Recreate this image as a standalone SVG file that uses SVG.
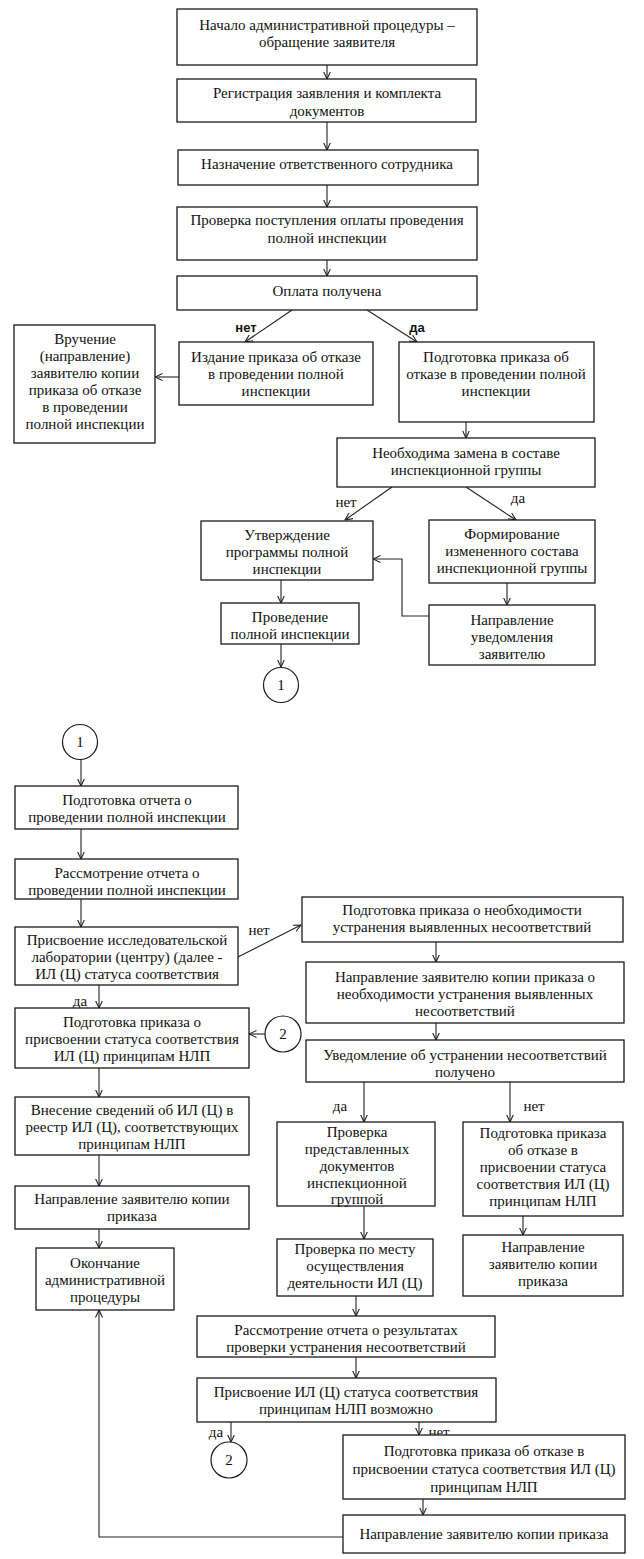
<svg xmlns="http://www.w3.org/2000/svg" width="644" height="1559" viewBox="0 0 644 1559">
<defs>
<style>
.b{fill:#fff;stroke:#1a1a1a;stroke-width:1.3}
.t{font-family:"Liberation Serif","Times New Roman",serif;font-size:15px;fill:#111;text-anchor:middle}
.l{font-family:"Liberation Serif","Times New Roman",serif;font-size:15px;fill:#111;text-anchor:middle}
.lb{font-family:"Liberation Sans",Arial,sans-serif;font-size:13px;font-weight:bold;fill:#111;text-anchor:middle}
.c{fill:none;stroke:#222;stroke-width:1.1;marker-end:url(#a)}
.o{fill:#fff;stroke:#1a1a1a;stroke-width:1.2}
</style>
<marker id="a" viewBox="0 0 8 8" refX="7.5" refY="4" markerWidth="8" markerHeight="8" markerUnits="userSpaceOnUse" orient="auto">
<path d="M0,0.5 L7.5,4 L0,7.5" fill="none" stroke="#222" stroke-width="1.1"/>
</marker>
</defs>
<rect width="644" height="1559" fill="#fff"/>

<g id="connectors">
<path class="c" d="M327,65 V79"/>
<path class="c" d="M327,122 V150"/>
<path class="c" d="M327,185 V207"/>
<path class="c" d="M327,260 V276"/>
<path class="c" d="M292,310 L245,342"/>
<path class="c" d="M367,310 L417,342"/>
<path class="c" d="M179,377 H155"/>
<path class="c" d="M466,422 V438"/>
<path class="c" d="M392,487 L345,520"/>
<path class="c" d="M466,487 L516,520"/>
<path class="c" d="M507,583 V605"/>
<path class="c" d="M429,616 H402 V559 H373"/>
<path class="c" d="M281,580 V603"/>
<path class="c" d="M281,644 V667"/>
<path class="c" d="M81,759.5 V786"/>
<path class="c" d="M81,829 V859"/>
<path class="c" d="M81,899 V927"/>
<path class="c" d="M238,957 L301,925"/>
<path class="c" d="M99,985 V1008"/>
<path class="c" d="M265,1034 H249"/>
<path class="c" d="M99,1068 V1097"/>
<path class="c" d="M99,1155 V1186"/>
<path class="c" d="M99,1229 V1248"/>
<path class="c" d="M436,942 V962"/>
<path class="c" d="M436,1023 V1040"/>
<path class="c" d="M364,1082 V1122"/>
<path class="c" d="M510,1082 V1122"/>
<path class="c" d="M364,1206 V1239"/>
<path class="c" d="M523,1216 V1235"/>
<path class="c" d="M356,1296 V1316"/>
<path class="c" d="M356,1357 V1378"/>
<path class="c" d="M231,1422 V1442"/>
<path class="c" d="M419,1422 V1435"/>
<path class="c" d="M423,1499 V1515"/>
<path class="c" d="M343,1537 H99 V1310"/>
</g>

<g id="labels">
<text class="lb" x="246" y="332">нет</text>
<text class="lb" x="417" y="332">да</text>
<text class="l" x="346" y="507">нет</text>
<text class="l" x="518" y="503">да</text>
<text class="l" x="259" y="935">нет</text>
<text class="l" x="80" y="1006">да</text>
<text class="l" x="340" y="1111">да</text>
<text class="l" x="534" y="1111">нет</text>
<text class="l" x="216" y="1437">да</text>
<text class="l" x="439" y="1437">нет</text>
</g>

<g id="n1"><rect class="b" x="177" y="9" width="300" height="56"/><text class="t" x="327" y="30">Начало административной процедуры –<tspan x="327" dy="17">обращение заявителя</tspan></text></g>
<g id="n2"><rect class="b" x="177" y="79" width="299" height="43"/><text class="t" x="327" y="98">Регистрация заявления и комплекта<tspan x="327" dy="18">документов</tspan></text></g>
<g id="n3"><rect class="b" x="178" y="150" width="300" height="35"/><text class="t" x="327" y="169">Назначение ответственного сотрудника</text></g>
<g id="n4"><rect class="b" x="177" y="207" width="300" height="53"/><text class="t" x="327" y="225">Проверка поступления оплаты проведения<tspan x="327" dy="18">полной инспекции</tspan></text></g>
<g id="n5"><rect class="b" x="177" y="276" width="300" height="34"/><text class="t" x="327" y="296">Оплата получена</text></g>
<g id="n6"><rect class="b" x="14" y="325" width="141" height="118"/><text class="t" x="85" y="344">Вручение<tspan x="85" dy="17">(направление)</tspan><tspan x="85" dy="17">заявителю копии</tspan><tspan x="85" dy="17">приказа об отказе</tspan><tspan x="85" dy="17">в проведении</tspan><tspan x="85" dy="17">полной инспекции</tspan></text></g>
<g id="n7"><rect class="b" x="179" y="342" width="194" height="63"/><text class="t" x="276" y="362">Издание приказа об отказе<tspan x="276" dy="17">в проведении полной</tspan><tspan x="276" dy="17">инспекции</tspan></text></g>
<g id="n8"><rect class="b" x="399" y="342" width="195" height="80"/><text class="t" x="496" y="362">Подготовка приказа об<tspan x="496" dy="17">отказе в проведении полной</tspan><tspan x="496" dy="17">инспекции</tspan></text></g>
<g id="n9"><rect class="b" x="337" y="438" width="258" height="49"/><text class="t" x="466" y="458">Необходима замена в составе<tspan x="466" dy="17">инспекционной группы</tspan></text></g>
<g id="n10"><rect class="b" x="201" y="521" width="172" height="59"/><text class="t" x="287" y="540">Утверждение<tspan x="287" dy="17">программы полной</tspan><tspan x="287" dy="17">инспекции</tspan></text></g>
<g id="n11"><rect class="b" x="429" y="520" width="166" height="63"/><text class="t" x="512" y="539">Формирование<tspan x="512" dy="17">измененного состава</tspan><tspan x="512" dy="17">инспекционной группы</tspan></text></g>
<g id="n12"><rect class="b" x="429" y="605" width="166" height="60"/><text class="t" x="512" y="625">Направление<tspan x="512" dy="17">уведомления</tspan><tspan x="512" dy="17">заявителю</tspan></text></g>
<g id="n13"><rect class="b" x="221" y="603" width="138" height="41"/><text class="t" x="290" y="622">Проведение<tspan x="290" dy="17">полной инспекции</tspan></text></g>
<g id="c1"><circle class="o" cx="281" cy="685" r="17.5"/><text class="t" x="281" y="690">1</text></g>

<g id="c2"><circle class="o" cx="80" cy="742" r="17.5"/><text class="t" x="80" y="747">1</text></g>
<g id="nA"><rect class="b" x="15" y="786" width="223" height="43"/><text class="t" x="127" y="805">Подготовка отчета о<tspan x="127" dy="17">проведении полной инспекции</tspan></text></g>
<g id="nB"><rect class="b" x="15" y="859" width="223" height="40"/><text class="t" x="127" y="878">Рассмотрение отчета о<tspan x="127" dy="17">проведении полной инспекции</tspan></text></g>
<g id="nC"><rect class="b" x="15" y="927" width="223" height="58"/><text class="t" x="127" y="945">Присвоение исследовательской<tspan x="127" dy="17">лаборатории (центру) (далее -</tspan><tspan x="127" dy="17">ИЛ (Ц) статуса соответствия</tspan></text></g>
<g id="nD"><rect class="b" x="302" y="897" width="321" height="45"/><text class="t" x="462" y="915">Подготовка приказа о необходимости<tspan x="462" dy="17">устранения выявленных несоответствий</tspan></text></g>
<g id="nE"><rect class="b" x="15" y="1008" width="234" height="60"/><text class="t" x="132" y="1027">Подготовка приказа о<tspan x="132" dy="17">присвоении статуса соответствия</tspan><tspan x="132" dy="17">ИЛ (Ц) принципам НЛП</tspan></text></g>
<g id="c3"><circle class="o" cx="283" cy="1034" r="18"/><text class="t" x="283" y="1039">2</text></g>
<g id="nF"><rect class="b" x="15" y="1097" width="234" height="58"/><text class="t" x="132" y="1115">Внесение сведений об ИЛ (Ц) в<tspan x="132" dy="17">реестр ИЛ (Ц), соответствующих</tspan><tspan x="132" dy="17">принципам НЛП</tspan></text></g>
<g id="nG"><rect class="b" x="15" y="1186" width="234" height="43"/><text class="t" x="132" y="1204">Направление заявителю копии<tspan x="132" dy="17">приказа</tspan></text></g>
<g id="nH"><rect class="b" x="36" y="1248" width="138" height="62"/><text class="t" x="105" y="1268">Окончание<tspan x="105" dy="17">административной</tspan><tspan x="105" dy="17">процедуры</tspan></text></g>
<g id="nE2"><rect class="b" x="306" y="962" width="318" height="61"/><text class="t" x="465" y="982">Направление заявителю копии приказа о<tspan x="465" dy="17">необходимости устранения выявленных</tspan><tspan x="465" dy="17">несоответствий</tspan></text></g>
<g id="nF2"><rect class="b" x="306" y="1040" width="318" height="42"/><text class="t" x="465" y="1060">Уведомление об устранении несоответствий<tspan x="465" dy="17">получено</tspan></text></g>
<g id="nG2"><rect class="b" x="277" y="1122" width="158" height="84"/><text class="t" x="357" y="1137">Проверка<tspan x="357" dy="17">представленных</tspan><tspan x="357" dy="17">документов</tspan><tspan x="357" dy="17">инспекционной</tspan><tspan x="357" dy="16">группой</tspan></text></g>
<g id="nH2"><rect class="b" x="463" y="1122" width="160" height="94"/><text class="t" x="543" y="1138">Подготовка приказа<tspan x="543" dy="17">об отказе в</tspan><tspan x="543" dy="17">присвоении статуса</tspan><tspan x="543" dy="17">соответствия ИЛ (Ц)</tspan><tspan x="543" dy="17">принципам НЛП</tspan></text></g>
<g id="nI2"><rect class="b" x="463" y="1235" width="160" height="61"/><text class="t" x="543" y="1252">Направление<tspan x="543" dy="17">заявителю копии</tspan><tspan x="543" dy="17">приказа</tspan></text></g>
<g id="nJ2"><rect class="b" x="277" y="1239" width="156" height="57"/><text class="t" x="355" y="1254">Проверка по месту<tspan x="355" dy="17">осуществления</tspan><tspan x="355" dy="17">деятельности ИЛ (Ц)</tspan></text></g>
<g id="nK2"><rect class="b" x="197" y="1316" width="298" height="41"/><text class="t" x="346" y="1335">Рассмотрение отчета о результатах<tspan x="346" dy="17">проверки устранения несоответствий</tspan></text></g>
<g id="nL2"><rect class="b" x="197" y="1378" width="299" height="44"/><text class="t" x="346" y="1397">Присвоение ИЛ (Ц) статуса соответствия<tspan x="346" dy="17">принципам НЛП возможно</tspan></text></g>
<g id="c4"><circle class="o" cx="229" cy="1460" r="18"/><text class="t" x="229" y="1465">2</text></g>
<g id="nM2"><rect class="b" x="343" y="1435" width="282" height="64"/><text class="t" x="484" y="1456">Подготовка приказа об отказе в<tspan x="484" dy="18">присвоении статуса соответствия ИЛ (Ц)</tspan><tspan x="484" dy="18">принципам НЛП</tspan></text></g>
<g id="nN2"><rect class="b" x="343" y="1515" width="282" height="38"/><text class="t" x="484" y="1539">Направление заявителю копии приказа</text></g>
</svg>
